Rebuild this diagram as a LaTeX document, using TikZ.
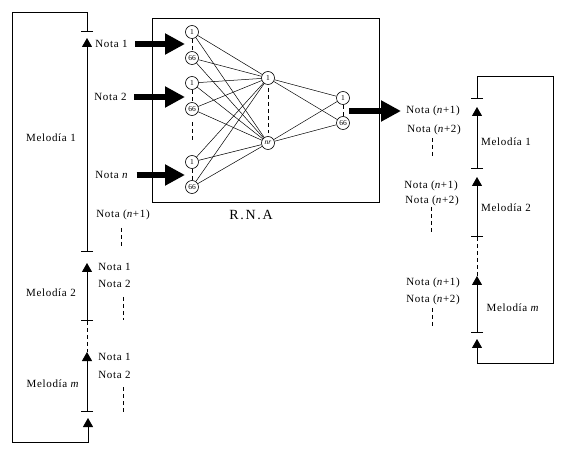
\documentclass[tikz,border=0pt]{standalone}
\usepackage{fontspec}
\setmainfont{Liberation Serif}[LetterSpace=6]
\usetikzlibrary{arrows.meta}

\begin{document}
\begin{tikzpicture}[x=1pt,y=-1pt,line width=0.8pt]
\tikzstyle{neuron} = [circle, draw=black, line width=0.6pt, inner sep=0pt, minimum size=13pt, font=\fontsize{7.5}{8}\selectfont\addfontfeatures{LetterSpace=0}]
\tikzstyle{nota} = [anchor=west, inner sep=0pt, font=\fontsize{11}{13}\selectfont]
\tikzstyle{melodia} = [inner sep=0pt, font=\fontsize{11}{13}\selectfont]
\tikzstyle{edge} = [draw=black, line width=0.5pt]
\tikzstyle{gap} = [draw=black, line width=0.8pt, dash pattern=on 4pt off 3pt]
\tikzstyle{big} = [draw=black, line width=6pt, -{Triangle[length=20pt,width=20pt]}]
\tikzstyle{seg} = [draw=black, {Bar[width=12pt]}-{Triangle[length=9pt,width=10pt]}]

\useasboundingbox (0,0) rectangle (565,454);

% red neuronal
\draw[line width=0.8pt] (152,18) rectangle (379,202);
\node[inner sep=0pt, font=\fontsize{14}{16}\selectfont\addfontfeatures{LetterSpace=12}] (rna) at (251,215) {R.N.A};

\node[neuron] (a1) at (192,32) {1};
\node[neuron] (a2) at (192,58) {66};
\node[neuron] (b1) at (192,83) {1};
\node[neuron] (b2) at (192,109) {66};
\node[neuron] (c1) at (192,162) {1};
\node[neuron] (c2) at (192,187) {66};
\node[neuron] (h1) at (268,78) {1};
\node[neuron] (h2) at (268,143) {\textit{nr}};
\node[neuron] (o1) at (343,98) {1};
\node[neuron] (o2) at (343,123) {66};

\draw[edge] (a1) to (h1);
\draw[edge] (a1) to (h2);
\draw[edge] (a2) to (h1);
\draw[edge] (a2) to (h2);
\draw[edge] (b1) to (h1);
\draw[edge] (b1) to (h2);
\draw[edge] (b2) to (h1);
\draw[edge] (b2) to (h2);
\draw[edge] (c1) to (h1);
\draw[edge] (c1) to (h2);
\draw[edge] (c2) to (h1);
\draw[edge] (c2) to (h2);
\draw[edge] (h1) to (o1);
\draw[edge] (h1) to (o2);
\draw[edge] (h2) to (o1);
\draw[edge] (h2) to (o2);

\draw[gap] (a1) -- (a2);
\draw[gap] (b1) -- (b2);
\draw[gap] (c1) -- (c2);
\draw[gap, shorten <=6.5pt, shorten >=12.5pt] (b2) -- (c1);
\draw[gap, shorten <=3.5pt, shorten >=3.5pt] (h1) -- (h2);
\draw[gap] (o1) -- (o2);

% entradas
\node[nota] (n1) at (95,44) {Nota 1};
\node[nota] (n2) at (94,97) {Nota 2};
\node[nota] (nn) at (95,175) {Nota \textit{n}};
\node[nota] (nm) at (96,215) {Nota (\textit{n}+1)};
\coordinate (g1) at (185,44);
\coordinate (g2) at (185,97);
\coordinate (g3) at (185,175);
\draw[big, shorten <=7pt] (n1) -- (g1);
\draw[big, shorten <=7pt] (n2) -- (g2);
\draw[big, shorten <=8pt] (nn) -- (g3);

% salida
\node[nota] (r1) at (406,111) {Nota (\textit{n}+1)};
\node[nota] (r2) at (407,130) {Nota (\textit{n}+2)};
\node[nota] (s1) at (404,186) {Nota (\textit{n}+1)};
\node[nota] (s2) at (405,201) {Nota (\textit{n}+2)};
\node[nota] (t1) at (406,283) {Nota (\textit{n}+1)};
\node[nota] (t2) at (406,300) {Nota (\textit{n}+2)};
\coordinate (oc) at (349,111);
\draw[big, shorten >=5pt] (oc) -- (r1);

% melodias izquierda
\node[melodia] (m1) at (51,138) {Melodía 1};
\node[melodia] (m2) at (51,293) {Melodía 2};
\node[melodia] (mm) at (53,384) {Melodía \textit{m}};
\node[nota] (p1) at (98,267) {Nota 1};
\node[nota] (p2) at (98,284) {Nota 2};
\node[nota] (q1) at (98,357) {Nota 1};
\node[nota] (q2) at (98,375) {Nota 2};

\coordinate (l0) at (87,32);
\coordinate (l1a) at (87,38);
\coordinate (l1b) at (87,252);
\coordinate (l2a) at (87,263);
\coordinate (l2b) at (87,321);
\coordinate (l3a) at (87,352);
\coordinate (l3b) at (87,412);
\coordinate (l4) at (88,418);
\draw[seg] (l0) -- (87,12) -- (12,12) -- (12,442) -- (88,442) -- (l4);
\draw[seg] (l1b) -- (l1a);
\draw[seg] (l2b) -- (l2a);
\draw[seg] (l3b) -- (l3a);
\draw[gap] (l2b) -- (l3a);

\draw[gap] (121,228) -- (121,248);
\draw[gap] (123,297) -- (123,320);
\draw[gap] (123,387) -- (123,412);

% melodias derecha
\node[melodia] (k1) at (506,142) {Melodía 1};
\node[melodia] (k2) at (506,208) {Melodía 2};
\node[melodia] (km) at (513,308) {Melodía \textit{m}};

\coordinate (d0) at (477,99);
\coordinate (d1a) at (477,107);
\coordinate (d1b) at (477,169);
\coordinate (d2a) at (477,177);
\coordinate (d2b) at (477,237);
\coordinate (d3a) at (477,276);
\coordinate (d3b) at (477,333);
\coordinate (d4) at (477,339);
\draw[seg] (d0) -- (477,76) -- (553,76) -- (553,363) -- (477,363) -- (d4);
\draw[seg] (d1b) -- (d1a);
\draw[seg] (d2b) -- (d2a);
\draw[seg] (d3b) -- (d3a);
\draw[gap] (d2b) -- (d3a);

\draw[gap] (432,138) -- (432,157);
\draw[gap] (431,207) -- (431,233);
\draw[gap] (432,308) -- (432,327);
\end{tikzpicture}
\end{document}
